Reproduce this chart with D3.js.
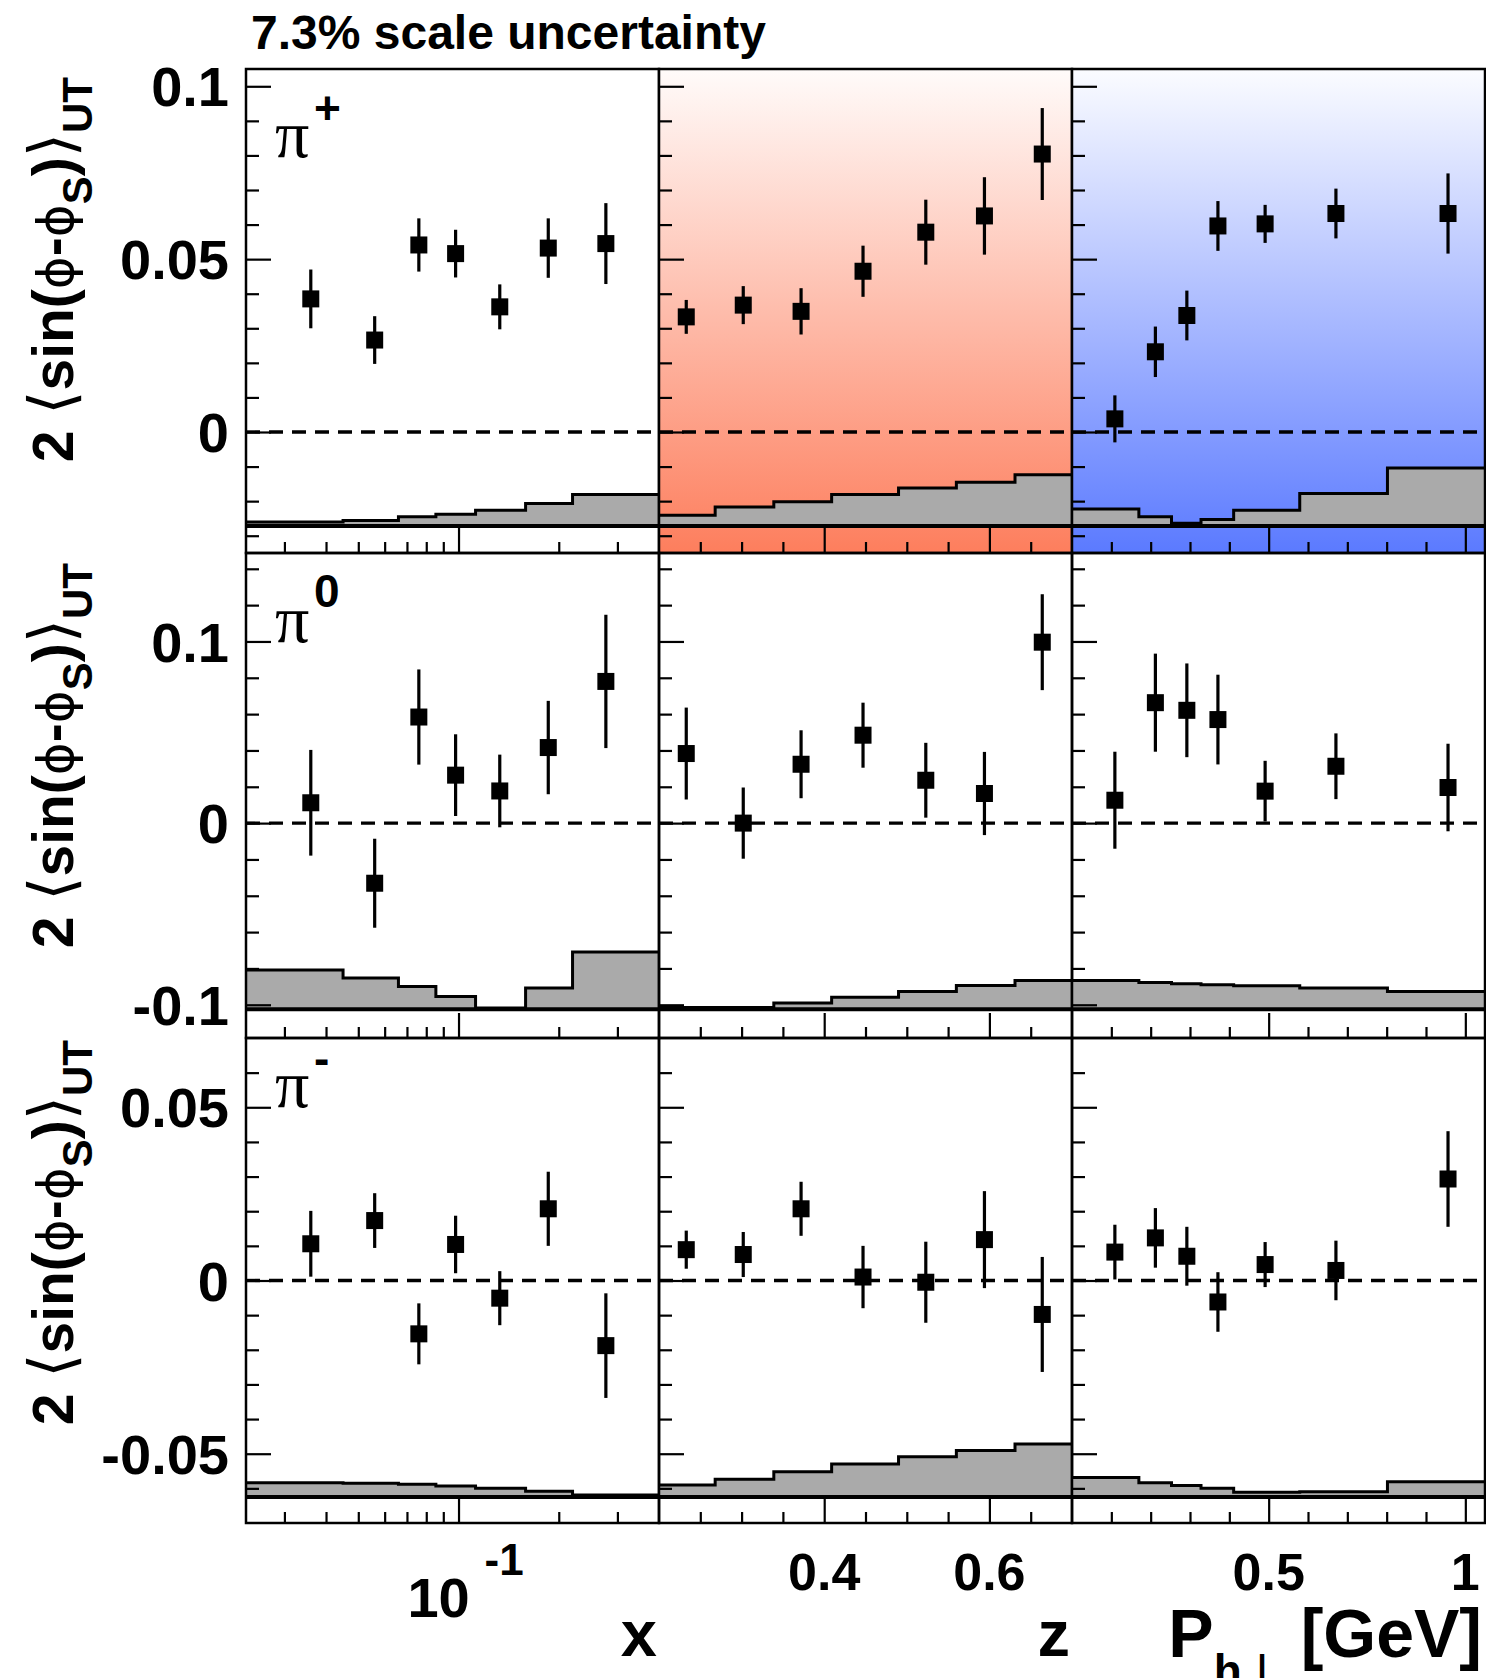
<!DOCTYPE html>
<html>
<head>
<meta charset="utf-8">
<script src="https://cdn.jsdelivr.net/npm/d3@7"></script>
<style>
  body { margin: 0; background: #fff; }
  svg { display: block; }
</style>
</head>
<body>
<svg id="chart" width="1486" height="1678"></svg>
<script>
// bin centres per kinematic variable
const xMean  = [0.036, 0.056, 0.076, 0.098, 0.133, 0.186, 0.277];
const zMean  = [0.233, 0.302, 0.372, 0.447, 0.523, 0.594, 0.664];
const phMean = [0.109, 0.212, 0.292, 0.371, 0.491, 0.671, 0.956];

// bin edges (for the systematic band)
const xEdges  = [0.023, 0.045, 0.066, 0.0855, 0.1125, 0.159, 0.22, 0.4];
const zEdges  = [0.2, 0.268, 0.339, 0.409, 0.49, 0.56, 0.631, 0.7];
const phEdges = [0, 0.17, 0.253, 0.328, 0.411, 0.579, 0.802, 1.05];

// pi+
const piPlusXVal  = [0.0385, 0.0266, 0.0541, 0.0516, 0.0362, 0.0532, 0.0545];
const piPlusXErr  = [0.0085, 0.0069, 0.0077, 0.0069, 0.0065, 0.0086, 0.0117];
const piPlusXSys  = [0.0012, 0.0016, 0.0027, 0.0034, 0.0046, 0.0065, 0.0091];
const piPlusZVal  = [0.0333, 0.0367, 0.0349, 0.0465, 0.0578, 0.0625, 0.0804];
const piPlusZErr  = [0.0049, 0.0055, 0.0067, 0.0074, 0.0094, 0.0112, 0.0133];
const piPlusZSys  = [0.0031, 0.0055, 0.0070, 0.0091, 0.0110, 0.0127, 0.0148];
const piPlusPhVal = [0.0038, 0.0232, 0.0337, 0.0596, 0.0602, 0.0632, 0.0632];
const piPlusPhErr = [0.0068, 0.0073, 0.0072, 0.0072, 0.0055, 0.0072, 0.0116];
const piPlusPhSys = [0.0049, 0.0027, 0.0008, 0.0019, 0.0046, 0.0094, 0.0168];

// pi0
const piZeroXVal  = [0.0112, -0.0331, 0.0584, 0.0264, 0.0177, 0.0416, 0.0780];
const piZeroXErr  = [0.0291, 0.0245, 0.0262, 0.0225, 0.0200, 0.0257, 0.0367];
const piZeroXSys  = [0.0217, 0.0172, 0.0125, 0.0070, 0.0007, 0.0117, 0.0315];
const piZeroZVal  = [0.0383, 0.0000, 0.0324, 0.0484, 0.0236, 0.0163, 0.0996];
const piZeroZErr  = [0.0253, 0.0196, 0.0187, 0.0179, 0.0206, 0.0229, 0.0264];
const piZeroZSys  = [0.0010, 0.0010, 0.0034, 0.0067, 0.0098, 0.0131, 0.0158];
const piZeroPhVal = [0.0126, 0.0663, 0.0621, 0.0570, 0.0176, 0.0313, 0.0196];
const piZeroPhErr = [0.0267, 0.0270, 0.0258, 0.0247, 0.0167, 0.0181, 0.0241];
const piZeroPhSys = [0.0158, 0.0147, 0.0140, 0.0135, 0.0129, 0.0117, 0.0098];

// pi-
const piMinusXVal  = [0.0106, 0.0173, -0.0154, 0.0104, -0.0051, 0.0207, -0.0188];
const piMinusXErr  = [0.0095, 0.0079, 0.0088, 0.0083, 0.0078, 0.0107, 0.0151];
const piMinusXSys  = [0.0041, 0.0040, 0.0037, 0.0032, 0.0025, 0.0017, 0.0006];
const piMinusZVal  = [0.0089, 0.0075, 0.0207, 0.0010, -0.0005, 0.0118, -0.0098];
const piMinusZErr  = [0.0055, 0.0065, 0.0078, 0.0090, 0.0117, 0.0140, 0.0166];
const piMinusZSys  = [0.0035, 0.0051, 0.0073, 0.0095, 0.0116, 0.0134, 0.0153];
const piMinusPhVal = [0.0082, 0.0123, 0.0070, -0.0062, 0.0046, 0.0029, 0.0293];
const piMinusPhErr = [0.0079, 0.0086, 0.0085, 0.0086, 0.0065, 0.0086, 0.0138];
const piMinusPhSys = [0.0056, 0.0041, 0.0033, 0.0025, 0.0014, 0.0015, 0.0044];

// axis ticks
const yMajorTicks = [[0, 0.05, 0.1], [-0.1, 0, 0.1], [-0.05, 0, 0.05]];
const yMinorTicks = [
    [-0.03, -0.02, -0.01, 0.01, 0.02, 0.03, 0.04, 0.06, 0.07, 0.08, 0.09],
    [-0.08, -0.06, -0.04, -0.02, 0.02, 0.04, 0.06, 0.08, 0.12, 0.14],
    [-0.06, -0.04, -0.03, -0.02, -0.01, 0.01, 0.02, 0.03, 0.04, 0.06]
];
const xMajorTicks = [[0.1], [0.4, 0.6], [0.5, 1]];
const xMinorTicks = [
    [0.03, 0.04, 0.05, 0.06, 0.07, 0.08, 0.09, 0.2, 0.3],
    [0.25, 0.3, 0.35, 0.45, 0.5, 0.55, 0.65],
    [0.1, 0.2, 0.3, 0.4, 0.6, 0.7, 0.8, 0.9]
];
const hadronSup = ["+", "0", "-"];

const SANS = "Liberation Sans, Arial, Helvetica, sans-serif";
const SERIF = "Liberation Serif, Times New Roman, serif";
const SYMB = "DejaVu Sans, sans-serif";

const svg = d3.select("#chart");
const defs = svg.append("defs");

function addGradient(id, top, bottom) {
    const lg = defs.append("linearGradient").attr("id", id)
        .attr("x1", 0).attr("y1", 0).attr("x2", 0).attr("y2", 1);
    lg.append("stop").attr("offset", "0").attr("stop-color", top);
    lg.append("stop").attr("offset", "1").attr("stop-color", bottom);
}
addGradient("gRed", "#fffbfa", "#fd7e5d");
addGradient("gBlue", "#fbfcff", "#5b7aff");

const xScales = [
    d3.scaleLog().domain([0.023, 0.4]).range([246, 659]),
    d3.scaleLinear().domain([0.2, 0.7]).range([659, 1072]),
    d3.scaleLinear().domain([0, 1.05]).range([1072, 1485])
];
const yScales = [
    d3.scaleLinear().domain([-0.035, 0.105]).range([553, 69]),
    d3.scaleLinear().domain([-0.1183, 0.1487]).range([1038, 553]),
    d3.scaleLinear().domain([-0.07, 0.07]).range([1523, 1038])
];
const bandBase = [-0.0272, -0.1025, -0.0625];

const means = [xMean, zMean, phMean];
const edges = [xEdges, zEdges, phEdges];
const panels = [
    [[piPlusXVal, piPlusXErr, piPlusXSys], [piPlusZVal, piPlusZErr, piPlusZSys], [piPlusPhVal, piPlusPhErr, piPlusPhSys]],
    [[piZeroXVal, piZeroXErr, piZeroXSys], [piZeroZVal, piZeroZErr, piZeroZSys], [piZeroPhVal, piZeroPhErr, piZeroPhSys]],
    [[piMinusXVal, piMinusXErr, piMinusXSys], [piMinusZVal, piMinusZErr, piMinusZSys], [piMinusPhVal, piMinusPhErr, piMinusPhSys]]
];

function drawPanel(r, c) {
    const xs = xScales[c], ys = yScales[r];
    const [x0, x1] = xs.range();
    const [y1, y0] = ys.range();
    const [vals, errs, sys] = panels[r][c];
    const base = bandBase[r];

    const g = svg.append("g");
    defs.append("clipPath").attr("id", "clip" + r + c)
        .append("rect").attr("x", x0).attr("y", y0).attr("width", x1 - x0).attr("height", y1 - y0);

    if (r === 0 && c > 0) {
        g.append("rect").attr("x", x0).attr("y", y0).attr("width", x1 - x0).attr("height", y1 - y0)
            .attr("fill", c === 1 ? "url(#gRed)" : "url(#gBlue)");
    }

    const inner = g.append("g").attr("clip-path", "url(#clip" + r + c + ")");

    // systematic band
    const pts = edges[c].map((e, i) => ({ x: e, s: sys[Math.min(i, sys.length - 1)] }));
    const area = d3.area().curve(d3.curveStepAfter)
        .x(d => xs(d.x)).y0(ys(base)).y1(d => ys(base + d.s));
    const top = d3.line().curve(d3.curveStepAfter)
        .x(d => xs(d.x)).y(d => ys(base + d.s));
    inner.append("path").attr("d", area(pts)).attr("fill", "#aaaaaa");
    inner.append("path").attr("d", top(pts)).attr("fill", "none")
        .attr("stroke", "#000").attr("stroke-width", 3);
    inner.append("line").attr("x1", x0).attr("x2", x1)
        .attr("y1", ys(base)).attr("y2", ys(base))
        .attr("stroke", "#000").attr("stroke-width", 4);

    // zero line
    inner.append("line").attr("x1", x0).attr("x2", x1)
        .attr("y1", ys(0)).attr("y2", ys(0))
        .attr("stroke", "#000").attr("stroke-width", 3.4).attr("stroke-dasharray", "14,9");

    const pd = means[c].map((m, i) => ({ m: m, v: vals[i], e: errs[i] }));
    inner.selectAll(".eb").data(pd).enter().append("line")
        .attr("x1", d => xs(d.m)).attr("x2", d => xs(d.m))
        .attr("y1", d => ys(d.v - d.e)).attr("y2", d => ys(d.v + d.e))
        .attr("stroke", "#000").attr("stroke-width", 3.2);
    inner.selectAll(".mk").data(pd).enter().append("rect")
        .attr("x", d => xs(d.m) - 8.5).attr("y", d => ys(d.v) - 8.5)
        .attr("width", 17).attr("height", 17).attr("fill", "#000");

    // ticks
    const tick = (axis, tx, ty) => g.append("g")
        .attr("transform", "translate(" + tx + "," + ty + ")")
        .call(axis)
        .call(a => a.select(".domain").remove())
        .call(a => a.selectAll("line").attr("stroke", "#000").attr("stroke-width", 2.2));
    tick(d3.axisRight(ys).tickValues(yMinorTicks[r]).tickSize(13).tickFormat(""), x0, 0);
    tick(d3.axisRight(ys).tickValues(yMajorTicks[r]).tickSize(25).tickFormat(""), x0, 0);
    tick(d3.axisTop(xs).tickValues(xMinorTicks[c]).tickSize(11).tickFormat(""), 0, y1);
    tick(d3.axisTop(xs).tickValues(xMajorTicks[c]).tickSize(25).tickFormat(""), 0, y1);

    g.append("rect").attr("x", x0).attr("y", y0).attr("width", x1 - x0).attr("height", y1 - y0)
        .attr("fill", "none").attr("stroke", "#000").attr("stroke-width", 2.5);
}

for (let r = 0; r < 3; r++) for (let c = 0; c < 3; c++) drawPanel(r, c);

// y tick labels
yScales.forEach((ys, r) => {
    svg.append("g").selectAll("text").data(yMajorTicks[r]).enter().append("text")
        .attr("x", 229).attr("y", d => ys(d)).attr("dy", "0.36em")
        .attr("text-anchor", "end").attr("font-family", SANS).attr("font-weight", "bold")
        .attr("font-size", 56).text(d => d === 0 ? "0" : String(d));
});

// y axis titles
const titleEnds = [77, 563, 1040];
titleEnds.forEach(yEnd => {
    const t = svg.append("text")
        .attr("transform", "translate(73," + yEnd + ") rotate(-90)")
        .attr("text-anchor", "end").attr("font-family", SANS).attr("font-weight", "bold")
        .attr("font-size", 57);
    t.append("tspan").text("2 ");
    t.append("tspan").attr("font-family", SYMB).attr("font-weight", "normal").attr("font-size", 62).text("\u27E8");
    t.append("tspan").text("sin(");
    t.append("tspan").attr("font-family", SYMB).attr("font-weight", "normal").attr("font-size", 50).text("\u03D5");
    t.append("tspan").text("-");
    t.append("tspan").attr("font-family", SYMB).attr("font-weight", "normal").attr("font-size", 50).text("\u03D5");
    t.append("tspan").attr("font-size", 42).attr("dy", 19).text("S");
    t.append("tspan").attr("dy", -19).text(")");
    t.append("tspan").attr("font-family", SYMB).attr("font-weight", "normal").attr("font-size", 62).text("\u27E9");
    t.append("tspan").attr("font-size", 42).attr("dy", 19).text("UT");
});

// hadron labels
const piBase = [157, 642, 1107];
const supBase = [124, 607, 1074];
piBase.forEach((yb, r) => {
    svg.append("text").attr("x", 275).attr("y", yb)
        .attr("font-family", SERIF).attr("font-size", 68).text("\u03C0");
    svg.append("text").attr("x", 314).attr("y", supBase[r])
        .attr("font-family", SANS).attr("font-weight", "bold").attr("font-size", 46)
        .text(hadronSup[r]);
});

// title
svg.append("text").attr("x", 251).attr("y", 49)
    .attr("font-family", SANS).attr("font-weight", "bold").attr("font-size", 48)
    .text("7.3% scale uncertainty");

// x tick labels (bottom row)
const lab = svg.append("g").attr("font-family", SANS).attr("font-weight", "bold");
[1, 2].forEach(c => {
    lab.selectAll(".xl" + c).data(xMajorTicks[c]).enter().append("text")
        .attr("x", d => xScales[c](d)).attr("y", 1590)
        .attr("text-anchor", "middle").attr("font-size", 52)
        .text(d => String(d));
});
const tenth = xScales[0](0.1);
lab.append("text").attr("x", tenth - 20).attr("y", 1617).attr("text-anchor", "middle")
    .attr("font-size", 56).text("10");
lab.append("text").attr("x", tenth + 26).attr("y", 1575).attr("font-size", 44).text("-1");

// x axis titles
lab.append("text").attr("x", 657).attr("y", 1656).attr("text-anchor", "end")
    .attr("font-size", 65).text("x");
lab.append("text").attr("x", 1070).attr("y", 1656).attr("text-anchor", "end")
    .attr("font-size", 65).text("z");
const ph = lab.append("text").attr("x", 1482).attr("y", 1657).attr("text-anchor", "end")
    .attr("font-size", 68);
ph.append("tspan").text("P");
ph.append("tspan").attr("font-size", 46).attr("dy", 30).text("h\u22A5");
ph.append("tspan").attr("dy", -30).text(" [GeV]");
</script>
</body>
</html>
